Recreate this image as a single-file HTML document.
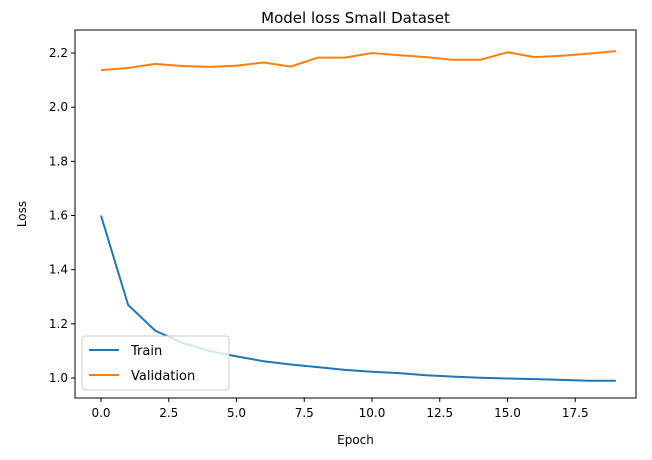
<!DOCTYPE html>
<html><head><meta charset="utf-8"><style>body{margin:0;background:#fff}svg{display:block;font-family:"DejaVu Sans","Liberation Sans",sans-serif}</style></head>
<body>
<svg id="c" width="652" height="460"></svg>
<script>
const epochs=[0,1,2,3,4,5,6,7,8,9,10,11,12,13,14,15,16,17,18,19];
const trainLoss=[1.6,1.27,1.175,1.13,1.10,1.08,1.062,1.05,1.04,1.03,1.023,1.018,1.01,1.005,1.001,0.998,0.996,0.993,0.99,0.99];
const valLoss=[2.137,2.145,2.16,2.152,2.149,2.153,2.165,2.150,2.183,2.183,2.2,2.192,2.185,2.175,2.175,2.203,2.185,2.19,2.198,2.207];
const xTicks=[0,2.5,5,7.5,10,12.5,15,17.5];
const yTicks=[1.0,1.2,1.4,1.6,1.8,2.0,2.2];
const L=75,R=636,T=30,B=398;
const xs=v=>101+v*27.1;
const ys=v=>378-(v-1)*270.8;
const svg=document.getElementById('c');const NS='http://www.w3.org/2000/svg';
function mk(t,a,p){const e=document.createElementNS(NS,t);for(const k in a)e.setAttribute(k,a[k]);(p||svg).appendChild(e);return e;}
let e;
e=mk('text',{x:(L+R)/2,y:23,'text-anchor':'middle','font-size':15,fill:'#000'});e.textContent='Model loss Small Dataset';


xTicks.forEach(v=>{const x=xs(v);
e=mk('line',{x1:x,x2:x,y1:B,y2:B+4,stroke:'#000'});


e=mk('text',{x:x,y:B+19,'text-anchor':'middle','font-size':12});e.textContent=v.toFixed(1);

});
yTicks.forEach(v=>{const y=ys(v);
e=mk('line',{x1:L-4,x2:L,y1:y,y2:y,stroke:'#000'});


e=mk('text',{x:L-7,y:y+4,'text-anchor':'end','font-size':12});e.textContent=v.toFixed(1);

});
e=mk('text',{x:(L+R)/2,y:444,'text-anchor':'middle','font-size':12});e.textContent='Epoch';


e=mk('text',{x:26,y:(T+B)/2,'text-anchor':'middle','font-size':12,transform:`rotate(-90 26 ${(T+B)/2})`});e.textContent='Loss';


function line(d,c,n){e=mk('polyline',{points:d.map((v,i)=>xs(epochs[i])+','+ys(v)).join(' '),fill:'none',stroke:c,'stroke-width':2});

}
line(trainLoss,'#1f77b4','train-line');
line(valLoss,'#ff7f0e','validation-line');
e=mk('rect',{x:L,y:T,width:R-L,height:B-T,fill:'none',stroke:'#000','stroke-width':1});


const g=mk('g',{});


mk('rect',{x:82,y:336,width:147,height:54,rx:3,fill:'#fff','fill-opacity':0.8,stroke:'#ccc'},g);
mk('line',{x1:89,x2:119,y1:350,y2:350,stroke:'#1f77b4','stroke-width':2},g);
e=mk('text',{x:131,y:355,'font-size':13},g);e.textContent='Train';


mk('line',{x1:89,x2:119,y1:375,y2:375,stroke:'#ff7f0e','stroke-width':2},g);
e=mk('text',{x:131,y:380,'font-size':13},g);e.textContent='Validation';


</script>
</body></html>
